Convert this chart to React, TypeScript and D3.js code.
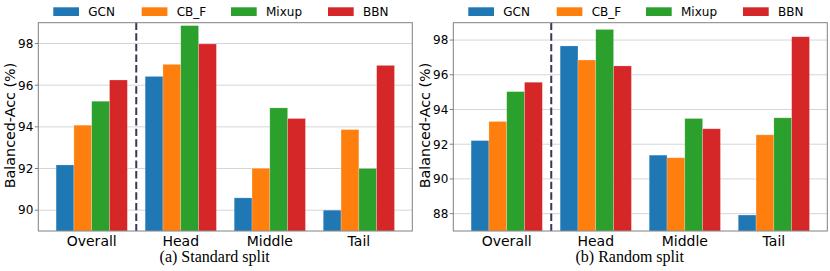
import React from "react";
import * as d3 from "d3";

const categories = ["Overall", "Head", "Middle", "Tail"];
const methods = ["GCN", "CB_F", "Mixup", "BBN"];
const colors = ["#1f77b4", "#ff7f0e", "#2ca02c", "#d62728"];

// Standard split
const standardGCN = [92.17, 96.42, 90.59, 90.0];
const standardCBF = [94.08, 97.0, 92.01, 93.87];
const standardMixup = [95.23, 98.86, 94.91, 92.0];
const standardBBN = [96.25, 97.98, 94.4, 96.95];

// Random split
const randomGCN = [92.21, 97.66, 91.37, 87.92];
const randomCBF = [93.31, 96.85, 91.22, 92.54];
const randomMixup = [95.03, 98.61, 93.48, 93.52];
const randomBBN = [95.57, 96.51, 92.89, 98.19];

const standardTicks = [90, 92, 94, 96, 98];
const randomTicks = [88, 90, 92, 94, 96, 98];

const panels = [
  {
    caption: "(a) Standard split",
    series: [standardGCN, standardCBF, standardMixup, standardBBN],
    domain: [89, 99],
    ticks: standardTicks,
  },
  {
    caption: "(b) Random split",
    series: [randomGCN, randomCBF, randomMixup, randomBBN],
    domain: [87, 99],
    ticks: randomTicks,
  },
];

const SANS = "'DejaVu Sans', sans-serif";
const SERIF = "'Liberation Serif', 'Times New Roman', serif";

// legend layout offsets (patch x relative to panel)
const legendPatchX = [53.3, 141.7, 231, 328];

function Panel({ panel, offsetX }: { panel: any; offsetX: number }) {
  const left = 38.3;
  const right = 412.3;
  const top = 22.7;
  const bottom = 231;
  const x = d3.scaleLinear().domain([-0.6, 3.6]).range([left, right]);
  const y = d3.scaleLinear().domain(panel.domain).range([bottom, top]);
  const barW = x(0.2) - x(0);
  const offsets = [-0.3, -0.1, 0.1, 0.3];

  return (
    <g transform={`translate(${offsetX},0)`}>
      {/* legend */}
      {methods.map((m, i) => (
        <g key={m}>
          <rect x={legendPatchX[i]} y={7.3} width={25.7} height={8.7} fill={colors[i]} />
          <text x={legendPatchX[i] + 35} y={16.3} fontFamily={SANS} fontSize={12} fill="#000">
            {m}
          </text>
        </g>
      ))}
      {/* grid */}
      {panel.ticks.map((t: number) => (
        <line key={t} x1={left} x2={right} y1={y(t)} y2={y(t)} stroke="#d6d6d6" strokeWidth={1} />
      ))}
      {/* bars */}
      {panel.series.map((vals: number[], si: number) =>
        vals.map((v, ci) => {
          const cx = x(ci + offsets[si]);
          return (
            <rect
              key={`${si}-${ci}`}
              x={cx - barW / 2}
              y={y(v)}
              width={barW}
              height={bottom - y(v)}
              fill={colors[si]}
              stroke="#ffffff"
              strokeOpacity={0.35}
              strokeWidth={0.6}
            />
          );
        })
      )}
      {/* dashed separator */}
      <line
        x1={x(0.5)}
        x2={x(0.5)}
        y1={top}
        y2={bottom}
        stroke="#3d3656"
        strokeWidth={2}
        strokeDasharray="7.4 3.2"
      />
      {/* frame */}
      <rect x={left} y={top} width={right - left} height={bottom - top} fill="none" stroke="#808080" strokeWidth={1} />
      {/* y ticks */}
      {panel.ticks.map((t: number) => (
        <g key={`yt${t}`}>
          <line x1={left - 3.5} x2={left} y1={y(t)} y2={y(t)} stroke="#808080" strokeWidth={1} />
          <text
            x={left - 5}
            y={y(t)}
            dy="0.36em"
            textAnchor="end"
            fontFamily={SANS}
            fontSize={12}
            fill="#000"
          >
            {t}
          </text>
        </g>
      ))}
      {/* y label */}
      <text
        transform={`translate(15,125.5) rotate(-90)`}
        textAnchor="middle"
        fontFamily={SANS}
        fontSize={14.3}
        fill="#000"
      >
        Balanced-Acc (%)
      </text>
      {/* category labels */}
      {categories.map((c, i) => (
        <text key={c} x={x(i)} y={245.5} textAnchor="middle" fontFamily={SANS} fontSize={14} fill="#000">
          {c}
        </text>
      ))}
      {/* caption */}
      <text x={214.7} y={262} textAnchor="middle" fontFamily={SERIF} fontSize={16} fill="#000">
        {panel.caption}
      </text>
    </g>
  );
}

export default function App() {
  return (
    <svg
      width={830}
      height={271}
      style={{ position: "absolute", left: 0, top: 0, background: "#fff" }}
    >
      <rect width={830} height={271} fill="#fff" />
      {panels.map((p, i) => (
        <Panel key={i} panel={p} offsetX={i * 415} />
      ))}
    </svg>
  );
}
